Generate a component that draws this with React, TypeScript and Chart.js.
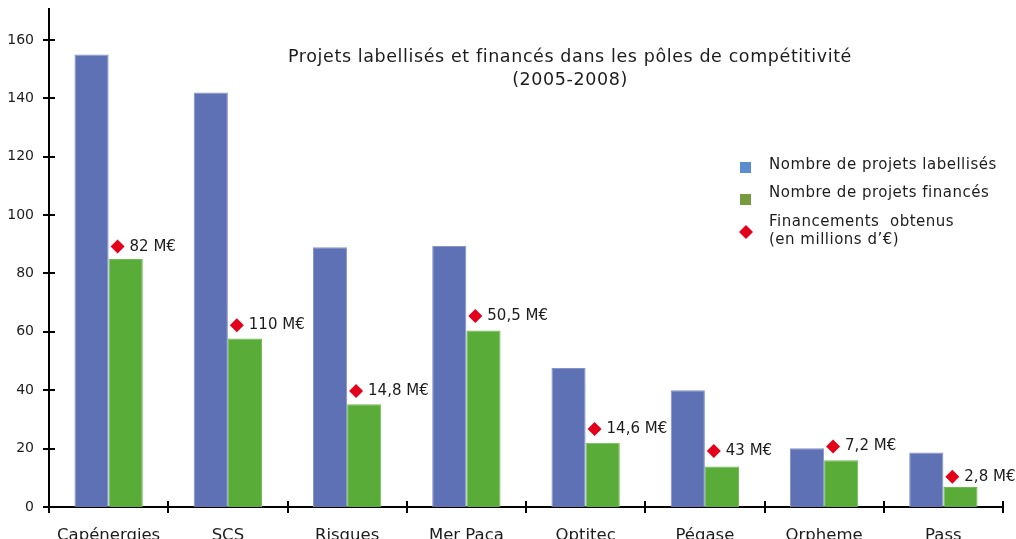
import React, { useEffect, useRef } from "react";
import { Chart, registerables } from "chart.js";

Chart.register(...registerables);

const categories = ["Capénergies", "SCS", "Risques", "Mer Paca", "Optitec", "Pégase", "Orpheme", "Pass"];
const projetsLabellises = [155, 142, 89, 89.4, 47.6, 40, 20.1, 18.7];
const projetsFinances = [85, 57.7, 35.2, 60.5, 22, 13.9, 16, 6.85];
const financementsPos = [89.2, 62.3, 39.7, 65.4, 26.7, 19.2, 20.7, 10.4];
const financementsLabels = ["82 M€", "110 M€", "14,8 M€", "50,5 M€", "14,6 M€", "43 M€", "7,2 M€", "2,8 M€"];
const titleLines = ["Projets labellisés et financés dans les pôles de compétitivité", "(2005-2008)"];
const legendLabels = ["Nombre de projets labellisés", "Nombre de projets financés", "Financements  obtenus", "(en millions d’€)"];
const yTickStep = 20;
const yMax = 170.6;
const diamondOffset = 0.075; // fraction of a category width, diamonds sit right of centre

const FONT = "'DejaVu Sans', sans-serif";
const BLUE = "#5E71B5";
const GREEN = "#59AC37";
const RED = "#E2001A";
const TEXT = "#1c1c1c";

function diamond(ctx: CanvasRenderingContext2D, x: number, y: number, r: number) {
  ctx.beginPath();
  ctx.moveTo(x, y - r);
  ctx.lineTo(x + r, y);
  ctx.lineTo(x, y + r);
  ctx.lineTo(x - r, y);
  ctx.closePath();
  ctx.fill();
}

const shiftPlugin = {
  id: "shiftDiamonds",
  afterDatasetsUpdate(chart: any) {
    const xs = chart.scales.x;
    const w = (xs.right - xs.left) / categories.length;
    chart.getDatasetMeta(2).data.forEach((el: any) => {
      el.x += diamondOffset * w;
    });
  },
};

const decorPlugin = {
  id: "decor",
  afterDraw(chart: any) {
    const ctx: any = chart.ctx;
    const { left, bottom } = chart.chartArea;
    const ys = chart.scales.y;
    const xs = chart.scales.x;
    ctx.save();
    ctx.strokeStyle = "#000";
    ctx.lineWidth = 2;
    ys.ticks.forEach((t: any) => {
      const py = Math.round(ys.getPixelForValue(t.value));
      ctx.beginPath();
      ctx.moveTo(left - 6, py);
      ctx.lineTo(left + 6, py);
      ctx.stroke();
    });
    const n = categories.length;
    for (let i = 0; i <= n; i++) {
      const px = Math.round(xs.left + (i * (xs.right - xs.left)) / n);
      ctx.beginPath();
      ctx.moveTo(px, bottom - 6);
      ctx.lineTo(px, bottom + 6);
      ctx.stroke();
    }

    // title
    ctx.fillStyle = TEXT;
    ctx.font = `17.5px ${FONT}`;
    ctx.letterSpacing = "0.6px";
    ctx.textAlign = "center";
    ctx.textBaseline = "middle";
    ctx.fillText(titleLines[0], 570, 57);
    ctx.fillText(titleLines[1], 570, 80);

    // legend
    ctx.textAlign = "left";
    ctx.font = `15px ${FONT}`;
    ctx.letterSpacing = "0.5px";
    ctx.fillStyle = "#5B8DCE";
    ctx.fillRect(740, 162, 11, 11);
    ctx.fillStyle = "#779A3E";
    ctx.fillRect(740, 194, 11, 11);
    ctx.fillStyle = RED;
    diamond(ctx, 746, 232, 7);
    ctx.fillStyle = TEXT;
    ctx.fillText(legendLabels[0], 769, 165);
    ctx.fillText(legendLabels[1], 769, 193);
    ctx.fillText(legendLabels[2], 769, 222);
    ctx.fillText(legendLabels[3], 769, 240);

    // diamond labels
    ctx.letterSpacing = "0px";
    const meta = chart.getDatasetMeta(2);
    ctx.font = `15px ${FONT}`;
    ctx.textBaseline = "middle";
    meta.data.forEach((el: any, i: number) => {
      ctx.fillText(financementsLabels[i], el.x + 12, el.y);
    });
    ctx.restore();
  },
};

export default function App() {
  const ref = useRef<HTMLCanvasElement | null>(null);
  useEffect(() => {
    document.body.style.margin = "0";
    const canvas = ref.current!;
    const chart = new Chart(canvas, {
      type: "bar",
      data: {
        labels: categories,
        datasets: [
          {
            label: "Nombre de projets labellisés",
            data: projetsLabellises,
            backgroundColor: BLUE,
            borderColor: "#8493C8",
            borderWidth: 1,
            order: 2,
          },
          {
            label: "Nombre de projets financés",
            data: projetsFinances,
            backgroundColor: GREEN,
            borderColor: "#72BA55",
            borderWidth: 1,
            order: 2,
          },
          {
            type: "line" as any,
            label: "Financements obtenus",
            data: financementsPos,
            showLine: false,
            backgroundColor: RED,
            borderColor: RED,
            pointBackgroundColor: RED,
            pointBorderWidth: 0,
            pointStyle: "rectRot",
            pointRadius: 7,
            order: 1,
          } as any,
        ],
      },
      options: {
        responsive: false,
        animation: false,
        datasets: { bar: { categoryPercentage: 0.573, barPercentage: 1 } },
        layout: { padding: { left: 0, right: 13, top: 9, bottom: 0 } },
        plugins: { legend: { display: false }, title: { display: false }, tooltip: { enabled: false } },
        scales: {
          x: {
            type: "category",
            offset: true,
            grid: { display: false, drawTicks: false, offset: true },
            border: { display: true, color: "#000", width: 2 },
            ticks: { color: TEXT, font: { family: FONT, size: 16.5 }, padding: 19, maxRotation: 0, autoSkip: false },
            afterFit: (s: any) => { s.height = 32; s.paddingLeft = 0; s.paddingRight = 0; },
          },
          y: {
            min: 0,
            max: yMax,
            grid: { display: false, drawTicks: false },
            border: { display: true, color: "#000", width: 2 },
            ticks: { stepSize: yTickStep, includeBounds: false, color: TEXT, font: { family: FONT, size: 14 }, padding: 15 },
            afterFit: (s: any) => { s.width = 49; s.paddingTop = 0; s.paddingBottom = 0; },
          },
        },
      } as any,
      plugins: [shiftPlugin, decorPlugin],
    });
    return () => chart.destroy();
  }, []);
  return (
    <div style={{ width: 1016, height: 539 }}>
      <canvas ref={ref} width={1016} height={539} style={{ display: "block" }} />
    </div>
  );
}
